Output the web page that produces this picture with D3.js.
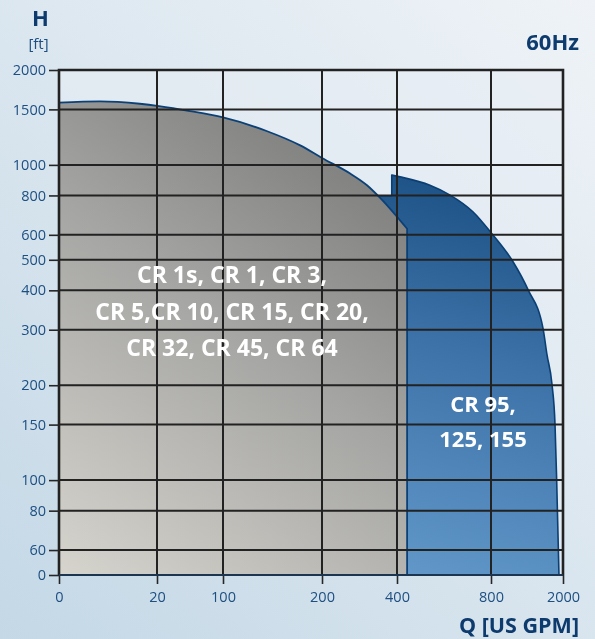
<!DOCTYPE html>
<html><head><meta charset="utf-8">
<script src="https://cdn.jsdelivr.net/npm/d3@7"></script>
<style>html,body{margin:0;padding:0;overflow:hidden;}
#wrap{position:relative;width:595px;height:639px;}
#c,#gridCanvas,#t{position:absolute;left:0;top:0;display:block;}</style>
</head><body>
<div id="wrap">
<svg id="c" width="595" height="639"></svg>
<canvas id="gridCanvas" width="595" height="639"></canvas>
<svg id="t" width="595" height="639"></svg>
</div>
<script>
// ---- data ----
const xTicks = [0, 20, 100, 200, 400, 800, 2000];
const yTicks = [0, 60, 80, 100, 150, 200, 300, 400, 500, 600, 800, 1000, 1500, 2000];
// Gray region (CR 1s ... CR 64): top boundary [Q, H]
const grayQ = [0, 8.4, 16.5, 22.4, 60, 100, 144, 178, 200, 275, 320, 355, 443];
const grayH = [1575, 1591, 1563, 1537, 1482, 1414, 1281, 1153, 1052, 939, 862, 786, 627];
// Blue region (CR 95, 125, 155): outline [Q, H]
const blueQ = [349, 386, 386, 413, 540, 626, 723, 812, 1167, 1417, 1667, 1733, 1817, 1867, 1895, 1933];
const blueH = [798, 798, 928, 916, 862, 802, 710, 606, 493, 402, 303, 250, 201, 150, 99, 0];
const blueLeftQ = 443;
const grayLabel = ["CR 1s, CR 1, CR 3,", "CR 5,CR 10, CR 15, CR 20,", "CR 32, CR 45, CR 64"];
const blueLabel = ["CR 95,", "125, 155"];

// ---- layout ----
const W = 595, H = 639;
const L = 59, R = 563, T = 70, B = 575;
const svg = d3.select("#c");
const txt = d3.select("#t");
const defs = svg.append("defs");
function grad(id, x1, y1, x2, y2, stops) {
  const g = defs.append("linearGradient").attr("id", id).attr("gradientUnits", "userSpaceOnUse")
    .attr("x1", x1).attr("y1", y1).attr("x2", x2).attr("y2", y2);
  stops.forEach(s => g.append("stop").attr("offset", s[0]).attr("stop-color", s[1]));
}
grad("bgGrad", 0, 639, 595, 0, [[0, "#c4d8e6"], [0.5, "#dae6ef"], [1, "#eff3f7"]]);
grad("grayGrad", 59, 575, 420, 90, [[0, "#d6d4cd"], [0.5, "#a5a5a3"], [1, "#6f6f6f"]]);
grad("blueGrad", 400, 575, 520, 170, [[0, "#6198c9"], [0.55, "#3d72a8"], [1, "#174c80"]]);

svg.append("rect").attr("width", W).attr("height", H).attr("fill", "url(#bgGrad)");

const fr = [0, 98, 164, 263, 338, 432, 504].map(d => d / 504);
const x = d3.scaleLinear().domain(xTicks).range(fr.map(f => L + f * (R - L)));
const yLog = d3.scaleLog().domain([50, 2000]).range([B, T]);
const y = v => yLog(Math.max(v, 50));

svg.append("rect").attr("x", L).attr("y", T).attr("width", R - L).attr("height", B - T)
  .attr("fill", "#e6edf3").attr("opacity", 0.6);

const regions = svg.append("g").attr("class", "regions");

// blue region
const bluePts = blueQ.map((q, i) => [q, blueH[i]]);
const curvePart = d3.line().x(d => x(d[0])).y(d => y(d[1])).curve(d3.curveMonotoneX)(bluePts.slice(2));
const blueD = "M" + x(blueQ[0]) + "," + y(blueH[0]) + "L" + x(blueQ[1]) + "," + y(blueH[1]) +
  "L" + curvePart.slice(1) + "L" + x(blueLeftQ) + "," + y(0) + "Z";
regions.append("path").attr("d", blueD).attr("fill", "url(#blueGrad)")
  .attr("stroke", "#0b3f74").attr("stroke-width", 1.6).attr("stroke-linejoin", "round");

// gray region
const grayPts = grayQ.map((q, i) => [q, grayH[i]]);
const grayTop = d3.line().x(d => x(d[0])).y(d => y(d[1])).curve(d3.curveMonotoneX)(grayPts);
const lastQ = grayQ[grayQ.length - 1];
const grayD = grayTop + "L" + x(lastQ) + "," + y(0) + "L" + x(0) + "," + y(0) + "Z";
regions.append("path").attr("d", grayD).attr("fill", "url(#grayGrad)");
regions.append("path").attr("d", grayTop + "L" + x(lastQ) + "," + y(0))
  .attr("fill", "none").attr("stroke", "#0b4177").attr("stroke-width", 1.8);

// grid drawn on a canvas layered above the regions
const ctx = document.getElementById("gridCanvas").getContext("2d");
ctx.strokeStyle = "#222222";
ctx.lineWidth = 2;
ctx.beginPath();
yTicks.forEach(t => { ctx.moveTo(L, y(t)); ctx.lineTo(R, y(t)); });
xTicks.forEach(t => { ctx.moveTo(x(t), T); ctx.lineTo(x(t), B); });
ctx.stroke();
ctx.lineWidth = 2.6;
ctx.beginPath();
ctx.moveTo(L, B); ctx.lineTo(L, T); ctx.lineTo(R, T); ctx.lineTo(R, B);
ctx.stroke();

// axes ticks via d3 axes (top svg)
const yAxis = d3.axisLeft(yLog).tickValues(yTicks.map(t => Math.max(t, 50)))
  .tickFormat((d, i) => yTicks[i]).tickSize(10).tickPadding(3);
const xAxis = d3.axisBottom(x).tickValues(xTicks).tickFormat(d => d).tickSize(9).tickPadding(8);
const font = "'Open Sans', 'Noto Sans', sans-serif";
const tickCol = "#1d4f82";
const ya = txt.append("g").attr("transform", `translate(${L},0)`).call(yAxis);
const xa = txt.append("g").attr("transform", `translate(0,${B})`).call(xAxis);
[ya, xa].forEach(a => {
  a.select(".domain").remove();
  a.selectAll(".tick line").attr("stroke", "#262626").attr("stroke-width", 1.6);
  a.selectAll(".tick text").attr("fill", tickCol).attr("font-family", font).attr("font-size", 14.5);
});
ya.selectAll(".tick text").attr("x", -13);
txt.append("line").attr("x1", L).attr("x2", R).attr("y1", B).attr("y2", B)
  .attr("stroke", "#1c3550").attr("stroke-width", 2.2);

// titles
const navy = "#0e3b6e";
txt.append("text").attr("x", 40.5).attr("y", 26).attr("text-anchor", "middle")
  .attr("font-family", font).attr("font-weight", "bold").attr("font-size", 22).attr("fill", navy).text("H");
txt.append("text").attr("x", 38.5).attr("y", 49).attr("text-anchor", "middle")
  .attr("font-family", font).attr("font-size", 15).attr("fill", "#1d4f82").text("[ft]");
txt.append("text").attr("x", 579).attr("y", 50).attr("text-anchor", "end")
  .attr("font-family", font).attr("font-weight", "bold").attr("font-size", 22).attr("fill", navy).text("60Hz");
txt.append("text").attr("x", 579).attr("y", 633).attr("text-anchor", "end")
  .attr("font-family", font).attr("font-weight", "bold").attr("font-size", 21.5).attr("fill", navy).text("Q [US GPM]");

// region labels
txt.append("g").selectAll("text").data(grayLabel).join("text")
  .attr("x", 232).attr("y", (d, i) => [283, 320, 356][i]).attr("text-anchor", "middle")
  .attr("font-family", font).attr("font-weight", "bold").attr("font-size", 23).attr("fill", "#fff")
  .text(d => d);
txt.append("g").selectAll("text").data(blueLabel).join("text")
  .attr("x", 483).attr("y", (d, i) => [412, 447][i]).attr("text-anchor", "middle")
  .attr("font-family", font).attr("font-weight", "bold").attr("font-size", 22).attr("fill", "#fff")
  .text(d => d);
</script>
</body></html>
